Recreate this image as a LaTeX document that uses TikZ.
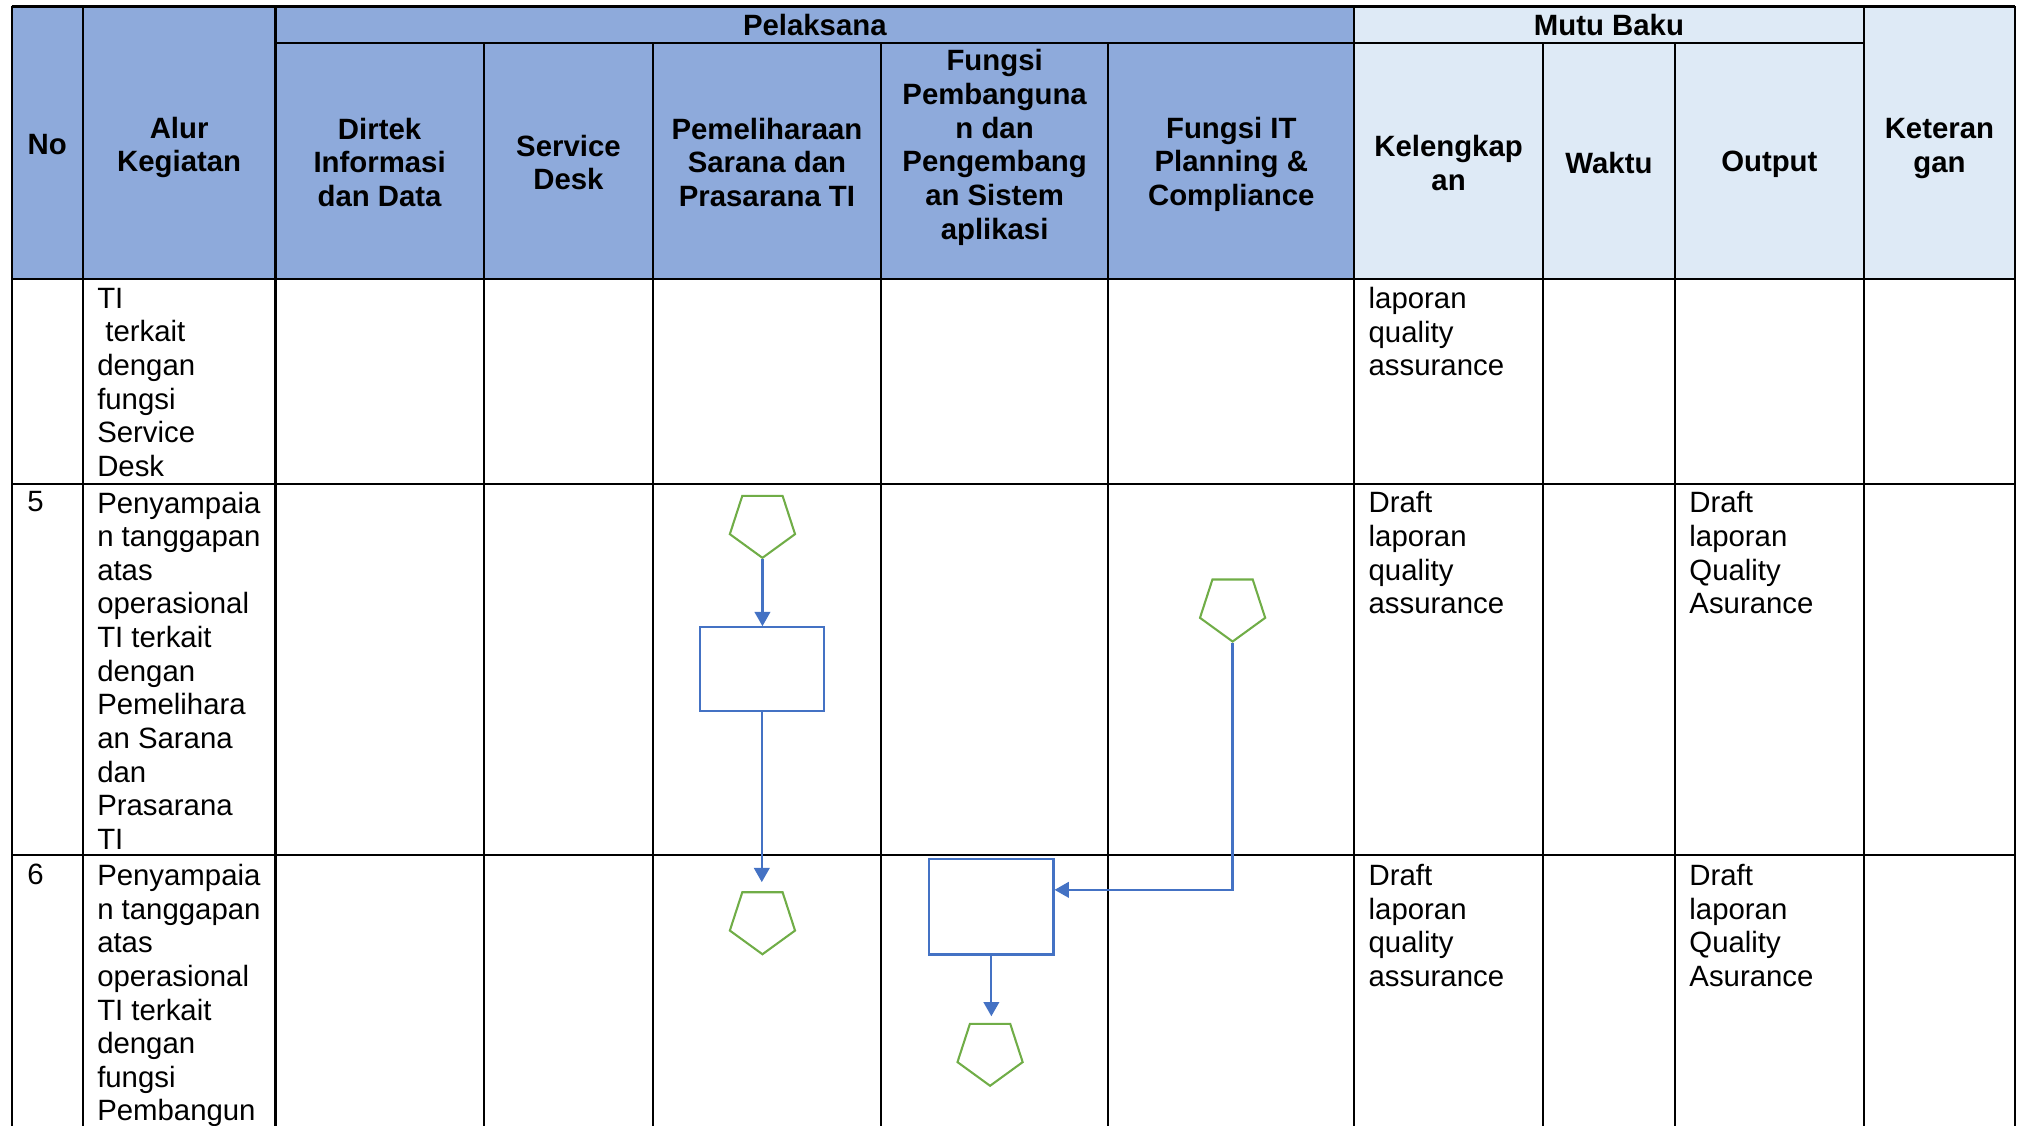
\documentclass[tikz,border=0pt]{standalone}
\usepackage{fontspec}
\setmainfont{Liberation Sans}
\usetikzlibrary{shapes.geometric,arrows.meta}
\definecolor{headblue}{HTML}{8EAADB}
\definecolor{headlight}{HTML}{DEEAF6}
\definecolor{flowblue}{HTML}{4472C4}
\definecolor{flowgreen}{HTML}{70AD47}

\begin{document}
\begin{tikzpicture}[x=1pt,y=-1pt]

    \tikzset{
      tabline/.style={
        line width=1.6pt,
        black,
      },
      head/.style={
        font=\fontsize{22.7}{26}\selectfont\bfseries,
        align=center,
        inner sep=0pt,
      },
      cell/.style={
        font=\fontsize{22.7}{26}\selectfont,
        align=left,
        anchor=north west,
        inner sep=0pt,
      },
      proc/.style={
        draw=flowblue,
        line width=1.7pt,
        minimum width=96pt,
        inner sep=0pt,
      },
      offpage/.style={
        draw=flowgreen,
        line width=1.6pt,
        regular polygon,
        regular polygon sides=5,
        shape border rotate=180,
        minimum size=53pt,
        inner sep=0pt,
      },
      flow/.style={
        flowblue,
        line width=1.7pt,
        -{Triangle[width=12pt,length=11pt]},
      },
    }
    \useasboundingbox (0,0) rectangle (1568,870);
    \clip (0,0) rectangle (1568,870);

	% header background
	\fill[headblue] (9,5) rectangle (1047,216);
	\fill[headlight] (1047,5) rectangle (1558,216);

	% rows
	\draw[tabline] (9,5) -- (1558,5);
	\draw[tabline] (213,33) -- (1441,33);
	\draw[tabline] (9,216) -- (1558,216);
	\draw[tabline] (9,374) -- (1558,374);
	\draw[tabline] (9,661) -- (1558,661);

	% columns
	\draw[tabline] (9,5) -- (9,880);
	\draw[tabline] (64,5) -- (64,880);
	\draw[tabline] (213,5) -- (213,880);
	\draw[tabline] (374,33) -- (374,880);
	\draw[tabline] (505,33) -- (505,880);
	\draw[tabline] (681,33) -- (681,880);
	\draw[tabline] (857,33) -- (857,880);
	\draw[tabline] (1047,5) -- (1047,880);
	\draw[tabline] (1193,33) -- (1193,880);
	\draw[tabline] (1295,33) -- (1295,880);
	\draw[tabline] (1441,5) -- (1441,880);
	\draw[tabline] (1558,5) -- (1558,880);

	% header text
	\node[head] (no) at (36.5,111.5) {No};
	\node[head] (alur) at (138.5,114) {Alur\\Kegiatan};
	\node[head] (pelaksana) at (630,19.5) {Pelaksana};
	\node[head] (dirtek) at (293.5,125.5) {Dirtek\\Informasi\\dan Data};
	\node[head] (sdesk) at (439.5,125.5) {Service\\Desk};
	\node[head] (pemsarana) at (593,125.5) {Pemeliharaan\\Sarana dan\\Prasarana TI};
	\node[head] (fpembangunan) at (769,114) {Fungsi\\Pembanguna\\n dan\\Pengembang\\an Sistem\\aplikasi};
	\node[head] (fitplanning) at (952,127) {Fungsi IT\\Planning \&\\Compliance};
	\node[head] (mutubaku) at (1244,19.5) {Mutu Baku};
	\node[head] (kelengkapan) at (1120,126) {Kelengkap\\an};
	\node[head] (waktu) at (1244,126) {Waktu};
	\node[head] (output) at (1368,127) {Output};
	\node[head] (keterangan) at (1499.5,115) {Keteran\\gan};

	% row 4 (continued)
	\node[cell] (alurA) at (75,222.5) {TI\\\ terkait\\dengan\\fungsi\\Service\\Desk};
	\node[cell] (lengkapA) at (1058,222) {laporan\\quality\\assurance};

	% row 5
	\node[cell] (noB) at (21,380) {5};
	\node[cell] (alurB) at (75,380) {Penyampaia\\n tanggapan\\atas\\operasional\\TI terkait\\dengan\\Pemelihara\\an Sarana\\dan\\Prasarana\\TI};
	\node[cell] (lengkapB) at (1058,380) {Draft\\laporan\\quality\\assurance};
	\node[cell] (outputB) at (1306,380) {Draft\\laporan\\Quality\\Asurance};

	% row 6
	\node[cell] (noC) at (21,668) {6};
	\node[cell] (alurC) at (75,668) {Penyampaia\\n tanggapan\\atas\\operasional\\TI terkait\\dengan\\fungsi\\Pembangun};
	\node[cell] (lengkapC) at (1058,668) {Draft\\laporan\\quality\\assurance};
	\node[cell] (outputC) at (1306,668) {Draft\\laporan\\Quality\\Asurance};

	% flow shapes
	\node[offpage] (p1) at (589.5,404.8) {};
	\node[proc, minimum height=65pt] (r1) at (589,517.5) {};
	\node[offpage] (p2) at (589.5,711.3) {};
	\node[offpage] (p3) at (953,469.5) {};
	\node[proc, minimum height=74pt] (r2) at (766.5,701) {};
	\node[offpage] (p4) at (765.5,813) {};

	% connectors
	\draw[flow] (p1.south) -- (p1.south |- r1.north);
	\draw[flow, shorten >=7pt] (r1.south) -- (r1.south |- p2.north);
	\draw[flow] (p3.south) |- ([yshift=13pt]r2.east);
	\draw[flow, shorten >=5pt] (r2.south) -- (r2.south |- p4.north);

\end{tikzpicture}
\end{document}
